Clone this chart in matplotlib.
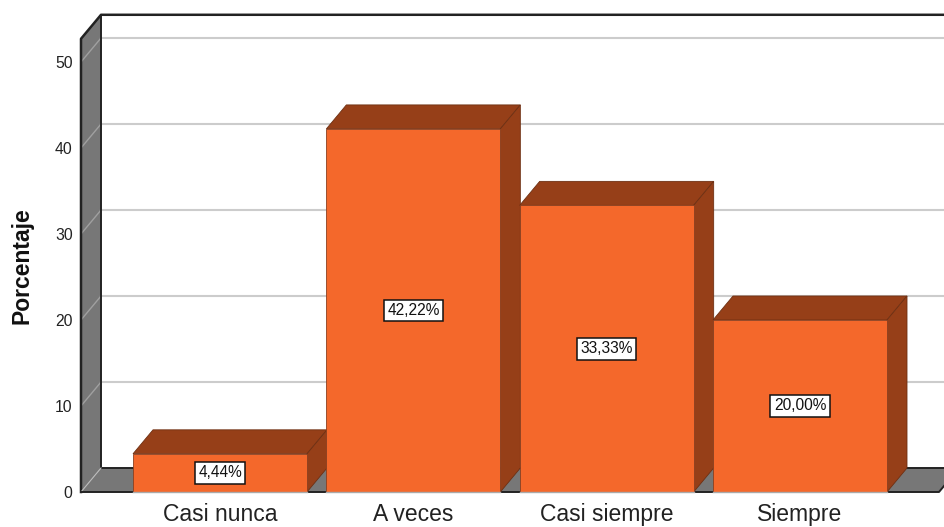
import matplotlib
matplotlib.use('Agg')
import matplotlib.pyplot as plt

plt.rcParams['font.family'] = ['Liberation Sans', 'DejaVu Sans']

categories = ['Casi nunca', 'A veces', 'Casi siempre', 'Siempre']
values = [4.44, 42.22, 33.33, 20.00]
labels = ['4,44%', '42,22%', '33,33%', '20,00%']
yticks = [0, 10, 20, 30, 40, 50]

# 3d look, depth of the box in data units
dx = 0.1035
dy = 2.79
bar_w = 0.9
xmin, xmax = -0.719, 3.719
ytop = 52.7

front = '#F4682B'
dark = '#963F18'
wall = '#777777'

fig = plt.figure(figsize=(9.44, 5.27), dpi=100)
ax = fig.add_axes([81 / 944, 1 - 492 / 527, (939 - 81) / 944, 430 / 527])
ax.set_xlim(xmin, xmax)
ax.set_ylim(0, 50)
for s in ax.spines.values():
    s.set_visible(False)

# left wall and floor
ax.fill([xmin, xmin + dx, xmin + dx, xmin], [0, dy, ytop + dy, ytop],
        color=wall, clip_on=False, zorder=1, lw=0)
ax.fill([xmin, xmin + dx, xmax + dx, xmax], [0, dy, dy, 0],
        color=wall, clip_on=False, zorder=1, lw=0)

# grid lines, back wall and across the side wall
for t in yticks[1:]:
    ax.plot([xmin + dx, xmax + dx], [t + dy, t + dy], color='#CCCCCC', lw=1.5, clip_on=False, zorder=1.5)
    ax.plot([xmin, xmin + dx], [t, t + dy], color='#A0A0A0', lw=1, clip_on=False, zorder=1.5)

# box outline
ax.plot([xmin, xmin, xmin + dx, xmax + dx], [0, ytop, ytop + dy, ytop + dy],
        color='#222222', lw=1.8, clip_on=False, zorder=2)
ax.plot([xmin + dx, xmin + dx, xmax + dx], [ytop + dy, dy, dy],
        color='#222222', lw=1.4, clip_on=False, zorder=2)
ax.plot([xmin, xmin + dx], [0, dy], color='#BBBBBB', lw=0.8, clip_on=False, zorder=2)
ax.plot([xmin, xmax, xmax + dx], [0, 0, dy], color='#222222', lw=1.4, clip_on=False, zorder=2)

# bars
for i, v in enumerate(values):
    l = i - bar_w / 2
    r = i + bar_w / 2
    z = 3 + i
    ax.fill([l, l + dx, r + dx, r], [v, v + dy, v + dy, v], facecolor=dark,
            edgecolor='#6E3013', lw=0.6, clip_on=False, zorder=z)
    ax.fill([r, r + dx, r + dx, r], [0, dy, v + dy, v], facecolor=dark,
            edgecolor='#6E3013', lw=0.6, clip_on=False, zorder=z)
    ax.bar(i, v, width=bar_w, color=front, edgecolor='#8A4020', lw=0.6, clip_on=False, zorder=z + 0.1)
    ax.plot([l, r], [0, 0], color='#AAAAAA', lw=1, clip_on=False, zorder=9)
    ax.text(i, v / 2, labels[i], ha='center', va='center', fontsize=11.2, color='#111111', zorder=10,
            bbox=dict(boxstyle='square,pad=0.22', facecolor='white', edgecolor='#111111', lw=1.1))

ax.set_yticks(yticks)
ax.set_xticks(range(len(categories)))
ax.set_xticklabels(categories, fontsize=16.5, color='#222222')
ax.tick_params(axis='x', length=0, pad=8)
ax.tick_params(axis='y', length=0, pad=6, labelsize=11.3, labelcolor='#222222')
fig.text(22 / 944, 1 - 266 / 527, 'Porcentaje', rotation=90, ha='center', va='center',
         fontsize=16.5, fontweight='bold', color='#111111')

fig.savefig('out.png', dpi=100)
